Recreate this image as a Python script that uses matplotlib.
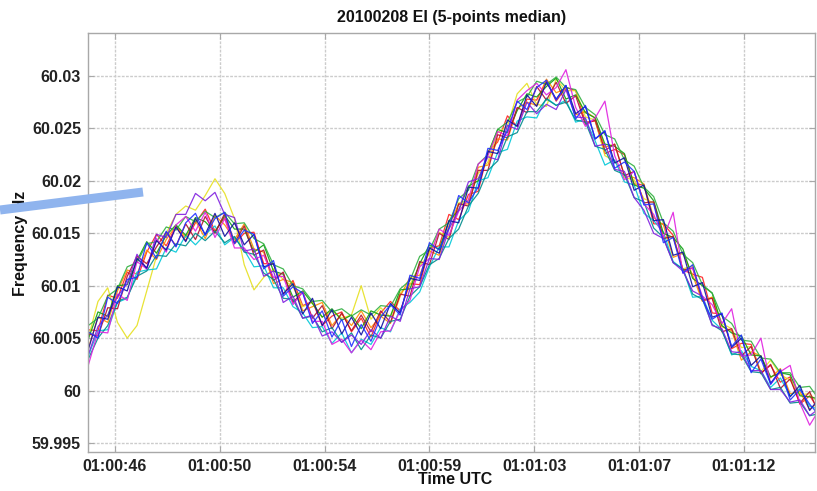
import numpy as np
import matplotlib
matplotlib.use("Agg")
import matplotlib.pyplot as plt
from matplotlib.lines import Line2D
from matplotlib.ticker import FixedLocator, FuncFormatter

# Sampling grid: seconds after 01:00:00 UTC, one sample every 0.4 s
t_start = 45.1
t_step = 0.4
n_samples = 76

# Per-run frequency traces, in mHz above 60 Hz (5-point median filtered)
run_red = [5.8, 5.7, 9.1, 8.8, 11.3, 10.6, 13.2, 14.9, 13.8, 15.7,
           14.3, 16.0, 17.3, 15.2, 16.5, 14.0, 15.0, 15.1, 12.1, 12.1,
           9.2, 10.5, 8.1, 8.5, 6.2, 7.1, 7.5, 5.6, 6.9, 5.1,
           7.4, 8.5, 7.6, 10.2, 10.1, 13.6, 13.8, 16.8, 16.3, 18.7,
           19.0, 22.8, 23.7, 26.2, 25.2, 27.8, 27.7, 29.6, 27.6, 28.9,
           28.6, 25.6, 25.7, 22.6, 23.0, 22.5, 19.7, 19.6, 15.9, 15.9,
           14.8, 11.5, 11.1, 10.8, 7.4, 7.3, 4.0, 4.5, 4.4, 1.7,
           2.4, 0.8, 1.3, -1.3, -0.5, -1.9]
run_yellow = [5.0, 8.5, 9.8, 6.5, 5.0, 6.2, 9.5, 12.8, 15.0, 16.8,
              17.6, 17.2, 18.6, 20.2, 18.8, 16.4, 12.0, 9.6, 10.8, 11.6,
              10.6, 9.9, 8.0, 8.4, 7.0, 7.6, 6.9, 7.2, 10.0, 6.8,
              7.9, 7.0, 9.3, 10.1, 11.9, 13.0, 15.1, 14.6, 17.9, 18.1,
              20.7, 21.8, 24.6, 25.2, 28.3, 29.3, 27.3, 27.1, 29.7, 28.6,
              28.6, 26.1, 25.8, 22.4, 21.9, 20.3, 20.1, 18.3, 17.9, 14.6,
              14.7, 11.6, 11.9, 8.6, 8.9, 6.4, 5.9, 4.1, 4.2, 1.8,
              2.9, 1.5, 1.0, -0.4, -0.3, -1.3]
run_orange = [4.0, 7.0, 6.5, 9.5, 11.5, 11.1, 13.4, 12.5, 14.4, 15.7,
              14.6, 16.2, 14.5, 16.7, 15.8, 14.4, 15.9, 13.5, 13.2, 10.2,
              10.6, 10.3, 7.6, 8.0, 8.4, 6.2, 7.3, 6.2, 7.6, 6.0,
              7.1, 6.4, 9.0, 10.8, 11.0, 13.3, 12.9, 15.7, 17.8, 17.8,
              21.3, 21.5, 24.0, 23.9, 26.9, 27.5, 27.2, 29.7, 28.4, 28.8,
              26.3, 26.6, 26.0, 23.2, 23.5, 20.5, 20.3, 19.7, 16.5, 15.8,
              12.7, 13.1, 11.0, 8.5, 8.9, 6.1, 5.7, 2.9, 3.7, 3.3,
              1.2, 2.1, -0.3, -0.1, -1.8, -1.0]
run_cyan = [3.3, 5.7, 5.8, 8.4, 8.8, 11.3, 11.5, 11.6, 13.6, 13.2,
            14.8, 13.9, 14.9, 15.7, 13.9, 14.6, 13.4, 11.8, 11.9, 9.8,
            9.8, 8.0, 7.4, 6.0, 6.1, 4.5, 5.5, 3.6, 4.9, 4.4,
            6.0, 5.6, 7.8, 8.4, 9.4, 11.8, 13.7, 13.7, 16.2, 17.1,
            20.0, 20.3, 22.7, 23.0, 25.7, 26.1, 26.0, 27.9, 27.2, 27.7,
            25.6, 25.9, 23.8, 21.5, 22.0, 19.9, 19.6, 16.9, 16.2, 15.1,
            12.3, 11.6, 8.9, 9.0, 6.7, 5.8, 3.4, 3.8, 2.3, 1.9,
            0.3, 1.2, -0.5, 0.2, -1.5, -1.8]
run_green = [4.9, 7.5, 7.1, 10.0, 10.1, 12.4, 14.2, 13.1, 14.8, 15.8,
             14.8, 16.5, 16.1, 15.1, 16.7, 15.4, 15.4, 13.2, 13.9, 11.4,
             11.1, 8.9, 9.5, 8.3, 7.0, 7.8, 6.7, 7.2, 5.9, 7.6,
             7.2, 7.1, 9.6, 9.7, 12.1, 13.9, 13.5, 16.2, 17.2, 19.5,
             20.0, 22.6, 24.9, 24.6, 26.7, 28.3, 28.0, 29.0, 29.8, 27.8,
             28.2, 26.5, 26.0, 23.5, 23.3, 22.6, 19.6, 19.3, 18.1, 15.0,
             14.6, 13.5, 10.7, 10.0, 9.3, 6.2, 5.5, 5.2, 3.4, 3.3,
             1.3, 1.7, 1.5, -0.5, -0.6, -0.8]
run_darkred = [5.4, 5.2, 7.9, 7.8, 10.9, 12.8, 12.1, 13.7, 15.1, 13.8,
               15.9, 14.4, 16.6, 15.0, 16.9, 14.1, 15.7, 12.9, 13.4, 10.5,
               11.3, 8.4, 9.4, 6.9, 8.1, 5.9, 7.4, 5.7, 7.2, 5.6,
               7.6, 6.5, 9.2, 9.0, 12.3, 12.0, 15.0, 14.4, 17.8, 17.6,
               21.0, 21.0, 24.4, 24.1, 27.0, 26.5, 29.0, 27.7, 29.4, 27.4,
               28.1, 25.4, 25.8, 22.9, 23.5, 20.5, 20.9, 17.9, 18.0, 14.5,
               14.7, 11.5, 11.7, 8.6, 8.8, 5.6, 5.9, 3.3, 4.2, 1.6,
               2.5, 0.2, 1.1, -1.2, -0.1, -2.4]
run_teal = [3.0, 5.0, 6.2, 8.5, 8.9, 10.9, 11.4, 12.9, 12.8, 14.0,
            13.8, 15.0, 14.3, 15.2, 14.1, 14.7, 13.2, 13.0, 11.2, 10.6,
            8.8, 8.7, 6.9, 7.1, 5.6, 6.0, 4.6, 5.5, 3.9, 5.3,
            5.0, 6.6, 6.8, 9.0, 9.9, 12.0, 12.6, 14.5, 15.4, 17.6,
            18.8, 21.0, 21.9, 24.2, 24.6, 26.6, 26.6, 27.8, 27.2, 27.5,
            25.8, 25.6, 23.3, 23.0, 21.0, 20.6, 18.4, 18.0, 15.5, 14.6,
            12.2, 11.6, 9.2, 8.7, 6.3, 5.7, 3.5, 3.4, 1.8, 1.7,
            0.1, 0.3, -1.2, -1.1, -2.4, -2.2]
run_green2 = [6.2, 6.9, 9.0, 9.7, 11.8, 12.2, 14.0, 14.2, 15.6, 15.3,
              16.6, 16.1, 17.1, 16.5, 17.0, 15.9, 16.0, 14.5, 14.0, 12.0,
              11.6, 10.0, 9.7, 8.5, 8.6, 7.5, 7.8, 7.1, 7.7, 7.2,
              8.1, 8.0, 9.7, 10.5, 12.8, 13.4, 15.4, 16.0, 18.3, 19.1,
              21.6, 22.5, 24.9, 25.6, 27.5, 28.0, 29.5, 29.2, 29.9, 28.9,
              28.7, 27.0, 26.3, 24.4, 24.0, 22.0, 21.4, 19.4, 18.5, 16.0,
              15.2, 13.0, 12.2, 10.1, 9.3, 7.1, 6.4, 4.8, 4.7, 3.1,
              3.0, 1.7, 1.7, 0.3, 0.4, -0.9]
run_magenta = [2.4, 5.6, 5.5, 9.2, 8.6, 12.3, 11.6, 14.5, 13.2, 15.8,
               16.6, 15.2, 17.0, 14.6, 16.4, 13.6, 13.6, 12.5, 12.9, 10.8,
               10.9, 8.2, 9.4, 6.6, 6.6, 4.4, 4.9, 3.6, 4.8, 3.9,
               5.6, 5.7, 7.6, 8.6, 11.8, 12.6, 15.4, 14.8, 17.1, 18.2,
               21.6, 22.4, 24.7, 24.3, 27.7, 28.6, 29.3, 28.2, 28.9, 30.6,
               27.0, 25.2, 26.0, 27.6, 22.4, 20.1, 20.9, 17.8, 16.8, 14.6,
               17.0, 11.2, 11.7, 9.0, 8.2, 6.4, 7.8, 3.3, 3.4, 5.0,
               0.6, 1.8, 2.4, -1.2, -3.3, -1.8]
run_purple = [3.4, 6.1, 7.2, 9.0, 10.2, 13.0, 11.6, 14.9, 14.6, 16.8,
              16.8, 18.8, 18.1, 18.9, 16.8, 16.5, 13.3, 13.5, 10.9, 11.4,
              8.4, 9.0, 6.9, 7.2, 5.2, 5.6, 4.6, 5.3, 4.4, 5.8,
              5.0, 7.1, 6.6, 9.7, 9.9, 12.6, 12.5, 15.4, 17.2, 19.9,
              20.2, 22.3, 22.0, 25.3, 24.9, 27.5, 26.4, 27.3, 26.8, 28.7,
              26.1, 26.0, 23.3, 23.5, 21.1, 20.9, 18.4, 17.2, 15.0, 14.5,
              12.2, 11.4, 9.5, 9.0, 6.2, 5.9, 3.7, 3.6, 1.9, 1.9,
              0.1, 0.1, -1.1, -0.9, -2.4, -1.7]
run_navy = [3.9, 7.0, 6.8, 9.9, 9.5, 12.6, 11.7, 14.3, 13.4, 15.6,
            14.2, 16.4, 14.9, 16.9, 14.7, 16.0, 13.9, 14.9, 11.8, 12.1,
            9.2, 10.2, 7.3, 8.8, 6.2, 7.7, 5.4, 7.0, 5.3, 7.4,
            5.9, 8.3, 7.4, 10.7, 10.5, 13.6, 13.1, 16.2, 16.0, 19.4,
            19.3, 22.8, 22.6, 25.8, 25.2, 28.2, 27.1, 29.4, 27.8, 29.1,
            26.4, 27.1, 24.0, 24.7, 21.7, 22.2, 19.1, 19.6, 16.2, 16.3,
            12.9, 13.2, 9.9, 10.3, 7.0, 7.3, 4.1, 5.0, 2.4, 3.3,
            0.7, 1.9, -0.6, 0.5, -1.9, -0.7]
run_blue = [5.6, 5.0, 8.9, 8.3, 10.6, 10.8, 14.1, 12.6, 15.2, 13.7,
            16.0, 16.9, 14.8, 16.4, 17.0, 14.0, 15.3, 14.9, 11.6, 12.4,
            9.0, 9.9, 9.3, 6.4, 7.6, 5.1, 6.8, 4.2, 6.3, 4.7,
            7.0, 8.2, 7.2, 11.0, 10.7, 14.1, 13.4, 15.5, 18.6, 17.9,
            19.4, 23.1, 22.9, 24.8, 27.6, 26.8, 28.9, 29.6, 27.7, 29.1,
            25.9, 27.2, 24.0, 24.8, 21.2, 21.8, 20.9, 17.7, 17.8, 14.1,
            14.6, 11.2, 12.0, 8.7, 6.8, 7.4, 4.2, 5.3, 1.7, 3.0,
            0.6, 2.0, -0.9, 0.1, -1.3, -2.4]

runs = [run_red, run_yellow, run_orange, run_cyan, run_green, run_darkred,
        run_teal, run_green2, run_magenta, run_purple, run_navy, run_blue]
run_colors = ["#ff2020", "#e6e020", "#ff8c00", "#00c8d8", "#10a010", "#b01030",
              "#008c8c", "#30b040", "#e020e0", "#8020e0", "#1010a0", "#2030ff"]

# Axis ticks
x_tick_pos = [46.2, 50.5, 54.8, 59.1, 63.4, 67.7, 72.0]
x_tick_labels = ["01:00:46", "01:00:50", "01:00:54", "01:00:59",
                 "01:01:03", "01:01:07", "01:01:12"]
y_ticks = [59.995, 60.0, 60.005, 60.01, 60.015, 60.02, 60.025, 60.03]

W, H = 817, 491
fig = plt.figure(figsize=(W / 100, H / 100), dpi=100)
ax = fig.add_axes([88 / W, 1 - 452 / H, (815 - 88) / W, (452 - 33) / H])

time = t_start + t_step * np.arange(n_samples)
for vals, col in zip(runs, run_colors):
    freq = 60.0 + np.asarray(vals) / 1000.0
    ax.plot(time, freq, color=col, lw=0.9, alpha=0.9)

ax.set_xlim(45.09, 74.92)
ax.set_ylim(59.99414, 60.0341)

ax.xaxis.set_major_locator(FixedLocator(x_tick_pos))
ax.set_xticklabels(x_tick_labels)
ax.yaxis.set_major_locator(FixedLocator(y_ticks))
ax.yaxis.set_major_formatter(FuncFormatter(lambda v, p: f"{v:.3f}".rstrip("0").rstrip(".")))

ax.grid(True, color="#cccccc", lw=1.0, ls=(0, (2, 1)))
ax.set_axisbelow(True)
for s in ax.spines.values():
    s.set_color("#a8a8a8")
    s.set_linewidth(1.0)
ax.tick_params(direction="in", length=4, width=0.8, color="#a8a8a8",
               top=True, right=True, labelsize=11.5, pad=5)
for lab in ax.get_xticklabels() + ax.get_yticklabels():
    lab.set_fontweight("bold")
    lab.set_fontfamily("Liberation Sans")
    lab.set_color("#222222")

ax.set_title("20100208 EI (5-points median)", fontsize=11.5, fontweight="bold",
             family="Liberation Sans", color="#111111", pad=8)
fig.text(455 / W, 1 - 480 / H, "Time UTC", ha="center", va="center",
         fontsize=11.5, fontweight="bold", family="Liberation Sans", color="#111111")
fig.text(21 / W, 1 - 243 / H, "Frequency Hz", ha="center", va="center", rotation=90,
         fontsize=11.5, fontweight="bold", family="Liberation Sans", color="#111111")

# Highlighter stroke drawn across the y-axis label
fig.add_artist(Line2D([0 / W, 143 / W], [1 - 210 / H, 1 - 192 / H],
                      transform=fig.transFigure, color="#8fb4ee", lw=6.5,
                      solid_capstyle="butt", zorder=10))

fig.savefig("out.png", dpi=100, facecolor="white")
